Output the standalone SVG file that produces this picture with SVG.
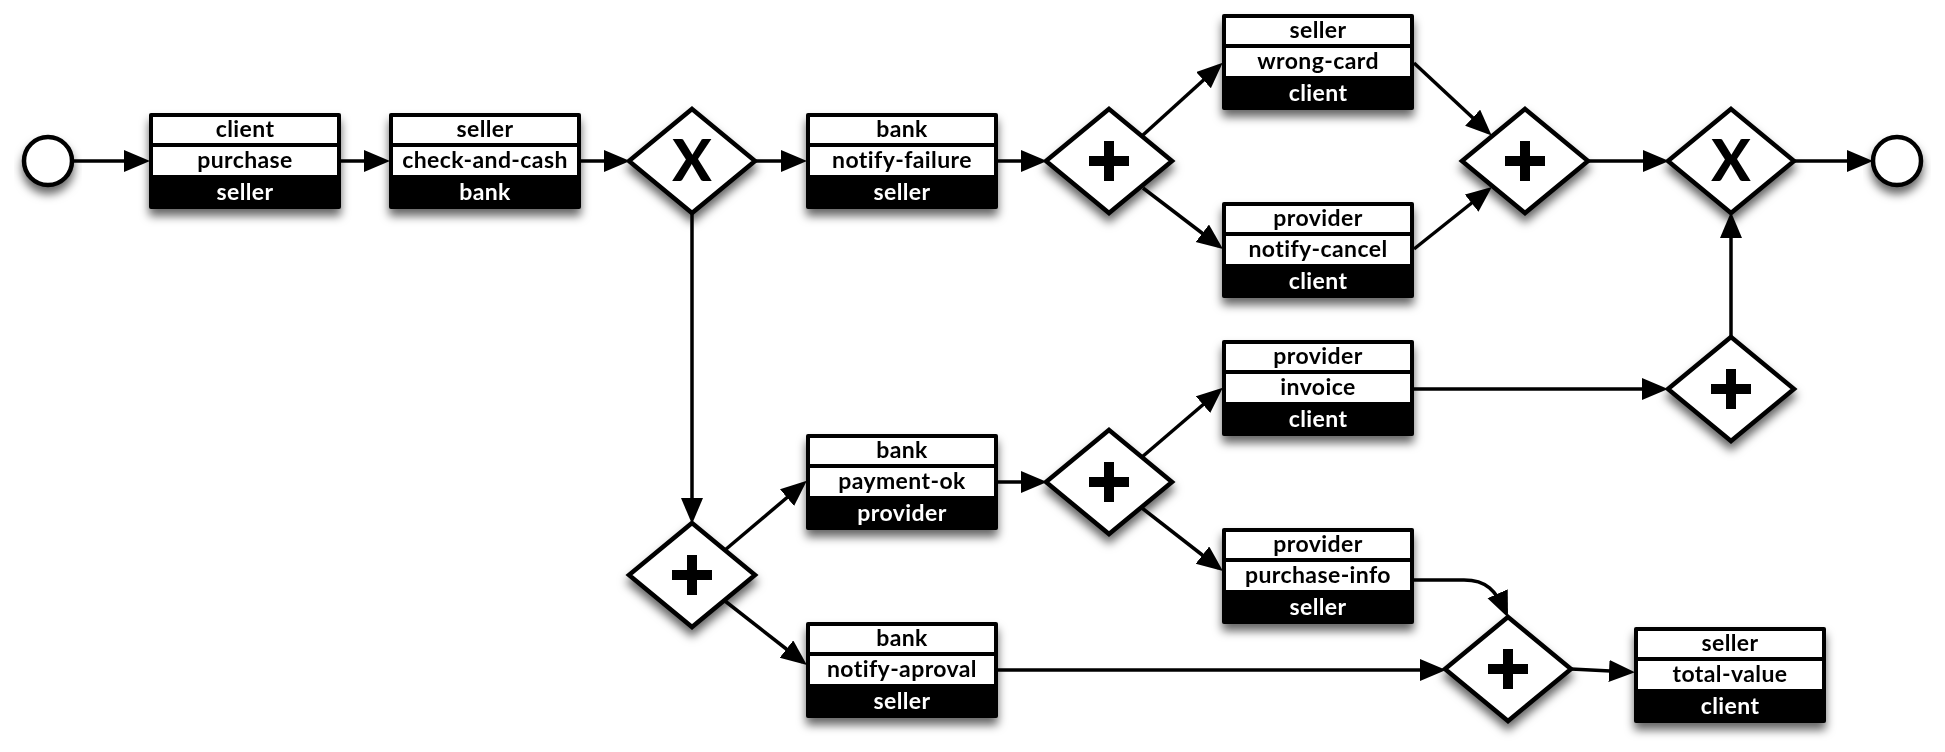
<svg xmlns="http://www.w3.org/2000/svg" xmlns:xlink="http://www.w3.org/1999/xlink" width="1945" height="752" viewBox="0 0 1945 752">
  <style>
    .frame { fill: #000; }
    .cell { fill: #fff; }
    .lbl { font-family: Lato, "Open Sans", "DejaVu Sans", sans-serif; font-weight: 700; font-size: 23px; letter-spacing: 0.4px; text-anchor: middle; fill: #000; }
    .inv { fill: #fff; }
    .gw { fill: #fff; stroke: #000; stroke-width: 4.5; stroke-linejoin: miter; }
    .ev { fill: #fff; stroke: #000; stroke-width: 4.5; }
    .mark { font-family: Lato, "Liberation Sans", sans-serif; font-weight: 900; font-size: 58px; text-anchor: middle; fill: #000; }
    .plus { stroke: #000; stroke-width: 10; fill: none; }
    .conn line, .conn path { stroke: #000; stroke-width: 3.5; fill: none; marker-end: url(#arrow); }
    .shadowed { filter: url(#shadow); }
  </style>
  <defs>
    <filter id="shadow" x="-20%" y="-20%" width="140%" height="160%">
      <feDropShadow dx="0" dy="7" stdDeviation="5" flood-color="#000" flood-opacity="0.6"/>
    </filter>
    <marker id="arrow" markerUnits="userSpaceOnUse" markerWidth="30" markerHeight="24" refX="21" refY="11" orient="auto">
      <path d="M0,0 L26,11 L0,22 z" fill="#000"/>
    </marker>
    <!-- three-row message task: sender / message / receiver -->
    <g id="taskFrame">
      <rect class="frame" x="0" y="0" width="192" height="96" rx="2"/>
      <rect class="cell" x="4" y="4" width="184" height="26"/>
      <rect class="cell" x="4" y="34" width="184" height="28"/>
    </g>
    <polygon id="diamond" class="gw" points="0,-52 63,0 0,52 -63,0"/>
    <path id="plusMark" class="plus" d="M-20,0 H20 M0,-20 V20"/>
  </defs>

  <!-- connectors -->
  <g id="connectors" class="conn">
    <line x1="73" y1="161" x2="145" y2="161"/>
    <line x1="341" y1="161" x2="385" y2="161"/>
    <line x1="581" y1="161" x2="625" y2="161"/>
    <line x1="755" y1="161" x2="802" y2="161"/>
    <line x1="998" y1="161" x2="1042" y2="161"/>
    <line x1="1143" y1="135" x2="1219" y2="66"/>
    <line x1="1143" y1="188" x2="1219" y2="246"/>
    <line x1="1414" y1="63" x2="1488" y2="132"/>
    <line x1="1414" y1="249" x2="1488" y2="190"/>
    <line x1="1588" y1="161" x2="1664" y2="161"/>
    <line x1="1794" y1="161" x2="1868" y2="161"/>
    <line x1="692" y1="213" x2="692" y2="519"/>
    <line x1="725" y1="550" x2="803" y2="484"/>
    <line x1="725" y1="601" x2="803" y2="662"/>
    <line x1="998" y1="482" x2="1042" y2="482"/>
    <line x1="1142" y1="457" x2="1219" y2="391"/>
    <line x1="1142" y1="508" x2="1219" y2="568"/>
    <line x1="1414" y1="389" x2="1663" y2="389"/>
    <line x1="1731" y1="337" x2="1731" y2="217"/>
    <path d="M1414,580 H1464 C1486,580 1496,590 1506,613"/>
    <line x1="998" y1="670" x2="1441" y2="670"/>
    <line x1="1571" y1="669" x2="1630" y2="672"/>
  </g>

  <!-- events -->
  <g id="start" class="shadowed"><circle class="ev" cx="48" cy="161" r="24"/></g>
  <g id="end" class="shadowed"><circle class="ev" cx="1897" cy="161" r="24"/></g>

  <!-- gateways -->
  <g id="gw-xor-split" class="shadowed" transform="translate(692,161)">
    <use xlink:href="#diamond"/><text class="mark" x="0" y="20">X</text>
  </g>
  <g id="gw-and-failure" class="shadowed" transform="translate(1109,161)">
    <use xlink:href="#diamond"/><use xlink:href="#plusMark"/>
  </g>
  <g id="gw-and-failure-join" class="shadowed" transform="translate(1525,161)">
    <use xlink:href="#diamond"/><use xlink:href="#plusMark"/>
  </g>
  <g id="gw-xor-join" class="shadowed" transform="translate(1731,161)">
    <use xlink:href="#diamond"/><text class="mark" x="0" y="20">X</text>
  </g>
  <g id="gw-and-approval" class="shadowed" transform="translate(692,575)">
    <use xlink:href="#diamond"/><use xlink:href="#plusMark"/>
  </g>
  <g id="gw-and-payment" class="shadowed" transform="translate(1109,482)">
    <use xlink:href="#diamond"/><use xlink:href="#plusMark"/>
  </g>
  <g id="gw-and-invoice" class="shadowed" transform="translate(1731,389)">
    <use xlink:href="#diamond"/><use xlink:href="#plusMark"/>
  </g>
  <g id="gw-and-total" class="shadowed" transform="translate(1508,669)">
    <use xlink:href="#diamond"/><use xlink:href="#plusMark"/>
  </g>

  <!-- tasks -->
  <g id="task-purchase" class="shadowed" transform="translate(149,113)">
    <use xlink:href="#taskFrame"/>
    <text class="lbl" x="96" y="24">client</text>
    <text class="lbl" x="96" y="55">purchase</text>
    <text class="lbl inv" x="96" y="87">seller</text>
  </g>
  <g id="task-check-and-cash" class="shadowed" transform="translate(389,113)">
    <use xlink:href="#taskFrame"/>
    <text class="lbl" x="96" y="24">seller</text>
    <text class="lbl" x="96" y="55">check-and-cash</text>
    <text class="lbl inv" x="96" y="87">bank</text>
  </g>
  <g id="task-notify-failure" class="shadowed" transform="translate(806,113)">
    <use xlink:href="#taskFrame"/>
    <text class="lbl" x="96" y="24">bank</text>
    <text class="lbl" x="96" y="55">notify-failure</text>
    <text class="lbl inv" x="96" y="87">seller</text>
  </g>
  <g id="task-wrong-card" class="shadowed" transform="translate(1222,14)">
    <use xlink:href="#taskFrame"/>
    <text class="lbl" x="96" y="24">seller</text>
    <text class="lbl" x="96" y="55">wrong-card</text>
    <text class="lbl inv" x="96" y="87">client</text>
  </g>
  <g id="task-notify-cancel" class="shadowed" transform="translate(1222,202)">
    <use xlink:href="#taskFrame"/>
    <text class="lbl" x="96" y="24">provider</text>
    <text class="lbl" x="96" y="55">notify-cancel</text>
    <text class="lbl inv" x="96" y="87">client</text>
  </g>
  <g id="task-invoice" class="shadowed" transform="translate(1222,340)">
    <use xlink:href="#taskFrame"/>
    <text class="lbl" x="96" y="24">provider</text>
    <text class="lbl" x="96" y="55">invoice</text>
    <text class="lbl inv" x="96" y="87">client</text>
  </g>
  <g id="task-payment-ok" class="shadowed" transform="translate(806,434)">
    <use xlink:href="#taskFrame"/>
    <text class="lbl" x="96" y="24">bank</text>
    <text class="lbl" x="96" y="55">payment-ok</text>
    <text class="lbl inv" x="96" y="87">provider</text>
  </g>
  <g id="task-purchase-info" class="shadowed" transform="translate(1222,528)">
    <use xlink:href="#taskFrame"/>
    <text class="lbl" x="96" y="24">provider</text>
    <text class="lbl" x="96" y="55">purchase-info</text>
    <text class="lbl inv" x="96" y="87">seller</text>
  </g>
  <g id="task-notify-aproval" class="shadowed" transform="translate(806,622)">
    <use xlink:href="#taskFrame"/>
    <text class="lbl" x="96" y="24">bank</text>
    <text class="lbl" x="96" y="55">notify-aproval</text>
    <text class="lbl inv" x="96" y="87">seller</text>
  </g>
  <g id="task-total-value" class="shadowed" transform="translate(1634,627)">
    <use xlink:href="#taskFrame"/>
    <text class="lbl" x="96" y="24">seller</text>
    <text class="lbl" x="96" y="55">total-value</text>
    <text class="lbl inv" x="96" y="87">client</text>
  </g>
</svg>
